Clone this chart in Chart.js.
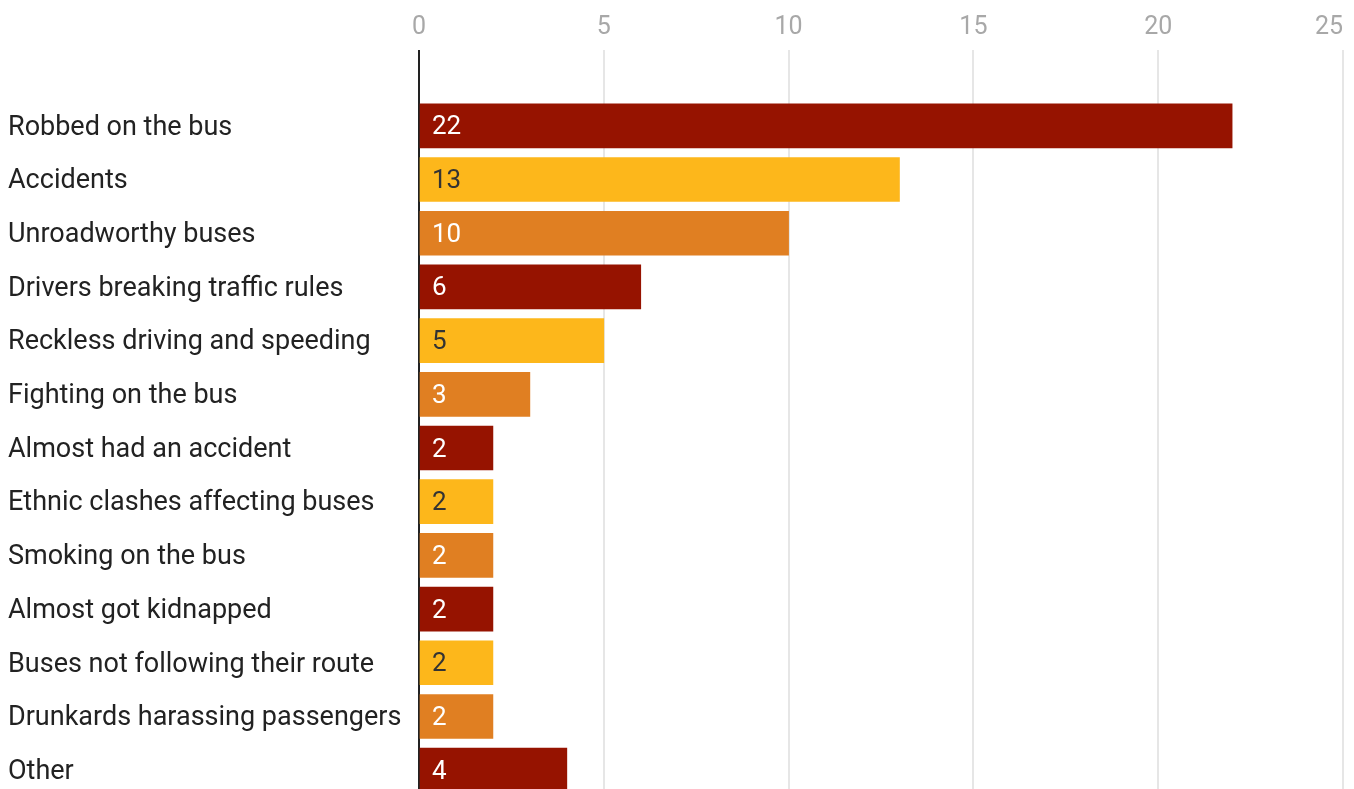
<!DOCTYPE html>
<html>
<head>
<meta charset="utf-8">
<script src="https://cdn.jsdelivr.net/npm/chart.js@4/dist/chart.umd.min.js"></script>
<style>
  html, body { margin: 0; padding: 0; overflow: hidden; background: #fff; }
  #wrap { width: 1354px; height: 800px; }
</style>
</head>
<body>
<div id="wrap"><canvas id="chart"></canvas></div>
<script>
const categories = [
  'Robbed on the bus',
  'Accidents',
  'Unroadworthy buses',
  'Drivers breaking traffic rules',
  'Reckless driving and speeding',
  'Fighting on the bus',
  'Almost had an accident',
  'Ethnic clashes affecting buses',
  'Smoking on the bus',
  'Almost got kidnapped',
  'Buses not following their route',
  'Drunkards harassing passengers',
  'Other'
];
const counts = [22, 13, 10, 6, 5, 3, 2, 2, 2, 2, 2, 2, 4];
const xTicks = [0, 5, 10, 15, 20, 25];

// red, yellow, orange repeating
const palette = ['#961300', '#fdb71b', '#e07f22'];
const labelInk = ['#ffffff', '#333333', '#ffffff'];

const valueLabels = {
  id: 'valueLabels',
  beforeDraw(chart) {
    // keep the first x label centred on its line, the last one flush right
    const items = chart.scales.x.getLabelItems();
    if (items.length) items[0].options.textAlign = 'center';
  },
  afterDatasetsDraw(chart) {
    const ctx = chart.ctx;
    const meta = chart.getDatasetMeta(0);
    ctx.save();
    ctx.font = '26px Roboto';
    ctx.textAlign = 'left';
    ctx.textBaseline = 'middle';
    meta.data.forEach((bar, i) => {
      ctx.fillStyle = labelInk[i % 3];
      ctx.fillText(String(counts[i]), bar.base + 12, bar.y + 2);
    });
    ctx.restore();
  }
};

new Chart(document.getElementById('chart'), {
  type: 'bar',
  data: {
    labels: categories,
    datasets: [{
      data: counts,
      backgroundColor: categories.map((_, i) => palette[i % 3]),
      borderWidth: 0,
      barThickness: 44
    }]
  },
  options: {
    indexAxis: 'y',
    responsive: true,
    maintainAspectRatio: false,
    animation: false,
    layout: { padding: { left: 8, bottom: 3, top: 0, right: 11 } },
    plugins: {
      legend: { display: false },
      tooltip: { enabled: false }
    },
    scales: {
      x: {
        position: 'top',
        min: 0,
        max: 25,
        afterBuildTicks(scale) {
          scale.ticks = xTicks.map(v => ({ value: v }));
        },
        afterFit(scale) {
          scale.height = 99;
          scale.paddingLeft = 0;
          scale.paddingRight = 0;
        },
        grid: {
          color: ctx => ctx.tick && ctx.tick.value === 0 ? '#222222' : '#e6e6e6',
          tickColor: ctx => ctx.tick && ctx.tick.value === 0 ? '#222222' : '#e6e6e6',
          lineWidth: 2,
          tickLength: 49
        },
        border: { display: false },
        ticks: {
          align: 'inner',
          color: '#a8a8a8',
          font: { family: 'Roboto', size: 25 },
          padding: 7,
          maxRotation: 0
        }
      },
      y: {
        afterFit(scale) {
          scale.width = 411;
          scale.paddingTop = 0;
          scale.paddingBottom = 0;
        },
        grid: { display: false, drawTicks: false },
        border: { display: false },
        ticks: {
          crossAlign: 'far',
          color: '#222222',
          font: { family: 'Roboto', size: 27 },
          padding: 0,
          labelOffset: 2
        }
      }
    }
  },
  plugins: [valueLabels]
});
</script>
</body>
</html>
